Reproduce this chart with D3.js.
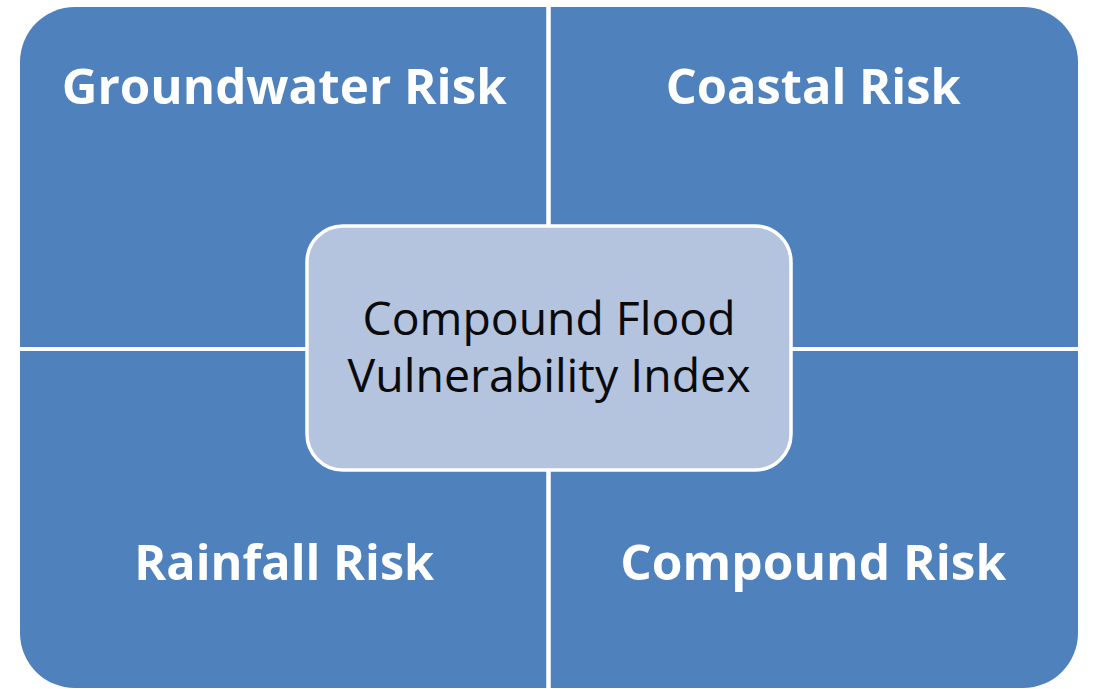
<!DOCTYPE html>
<html><head><meta charset="utf-8">
<script src="https://cdn.jsdelivr.net/npm/d3@7"></script>
<style>html,body{margin:0;padding:0;background:#fff;}svg{display:block;}</style>
</head><body>
<svg id="chart" width="1094" height="689"></svg>
<script>
// Data
const quadrants = ["Groundwater Risk", "Coastal Risk", "Rainfall Risk", "Compound Risk"];
const quadCols = [0, 1, 0, 1];
const quadRows = [0, 0, 1, 1];
const centerLines = ["Compound Flood", "Vulnerability Index"];
const quadTextWidths = [445, 295, 300, 386];
const centerTextWidths = [373, 403];

const svg = d3.select("#chart");
const W = 1094, H = 689;
const x0 = 20, x1 = 1078, y0 = 7, y1 = 688;
const blue = "#4f81bd";

// outer rounded rect
svg.append("rect").attr("x", x0).attr("y", y0).attr("width", x1 - x0).attr("height", y1 - y0)
  .attr("rx", 55).attr("ry", 55).attr("fill", blue);
// gaps
const midX = 548.5, midY = 349;
svg.append("line").attr("x1", midX).attr("x2", midX).attr("y1", 0).attr("y2", H)
  .attr("stroke", "#fff").attr("stroke-width", 4.5);
svg.append("line").attr("x1", 0).attr("x2", W).attr("y1", midY).attr("y2", midY)
  .attr("stroke", "#fff").attr("stroke-width", 4);

// quadrant labels
const qx = [(x0 + midX) / 2, (midX + x1) / 2];
const qy = [104, 580];
svg.selectAll("text.q").data(quadrants).join("text").attr("class", "q")
  .attr("x", (d, i) => qx[quadCols[i]])
  .attr("y", (d, i) => qy[quadRows[i]])
  .attr("text-anchor", "middle")
  .attr("font-family", "'Open Sans', 'DejaVu Sans', sans-serif")
  .attr("font-weight", "bold").attr("font-size", 48).attr("fill", "#fff")
  .attr("textLength", (d, i) => quadTextWidths[i]).attr("lengthAdjust", "spacingAndGlyphs")
  .text(d => d);

// center box
const cx0 = 307, cx1 = 791, cy0 = 226, cy1 = 470;
svg.append("rect").attr("x", cx0).attr("y", cy0).attr("width", cx1 - cx0).attr("height", cy1 - cy0)
  .attr("rx", 36).attr("ry", 36).attr("fill", "#b4c3de").attr("stroke", "#fff").attr("stroke-width", 3.5);
const cy = [335, 392];
svg.selectAll("text.c").data(centerLines).join("text").attr("class", "c")
  .attr("x", (cx0 + cx1) / 2).attr("y", (d, i) => cy[i])
  .attr("text-anchor", "middle")
  .attr("font-family", "'Open Sans', 'DejaVu Sans', sans-serif")
  .attr("font-size", 45).attr("fill", "#0a0a0a")
  .attr("textLength", (d, i) => centerTextWidths[i]).attr("lengthAdjust", "spacingAndGlyphs")
  .text(d => d);
</script>
</body></html>
